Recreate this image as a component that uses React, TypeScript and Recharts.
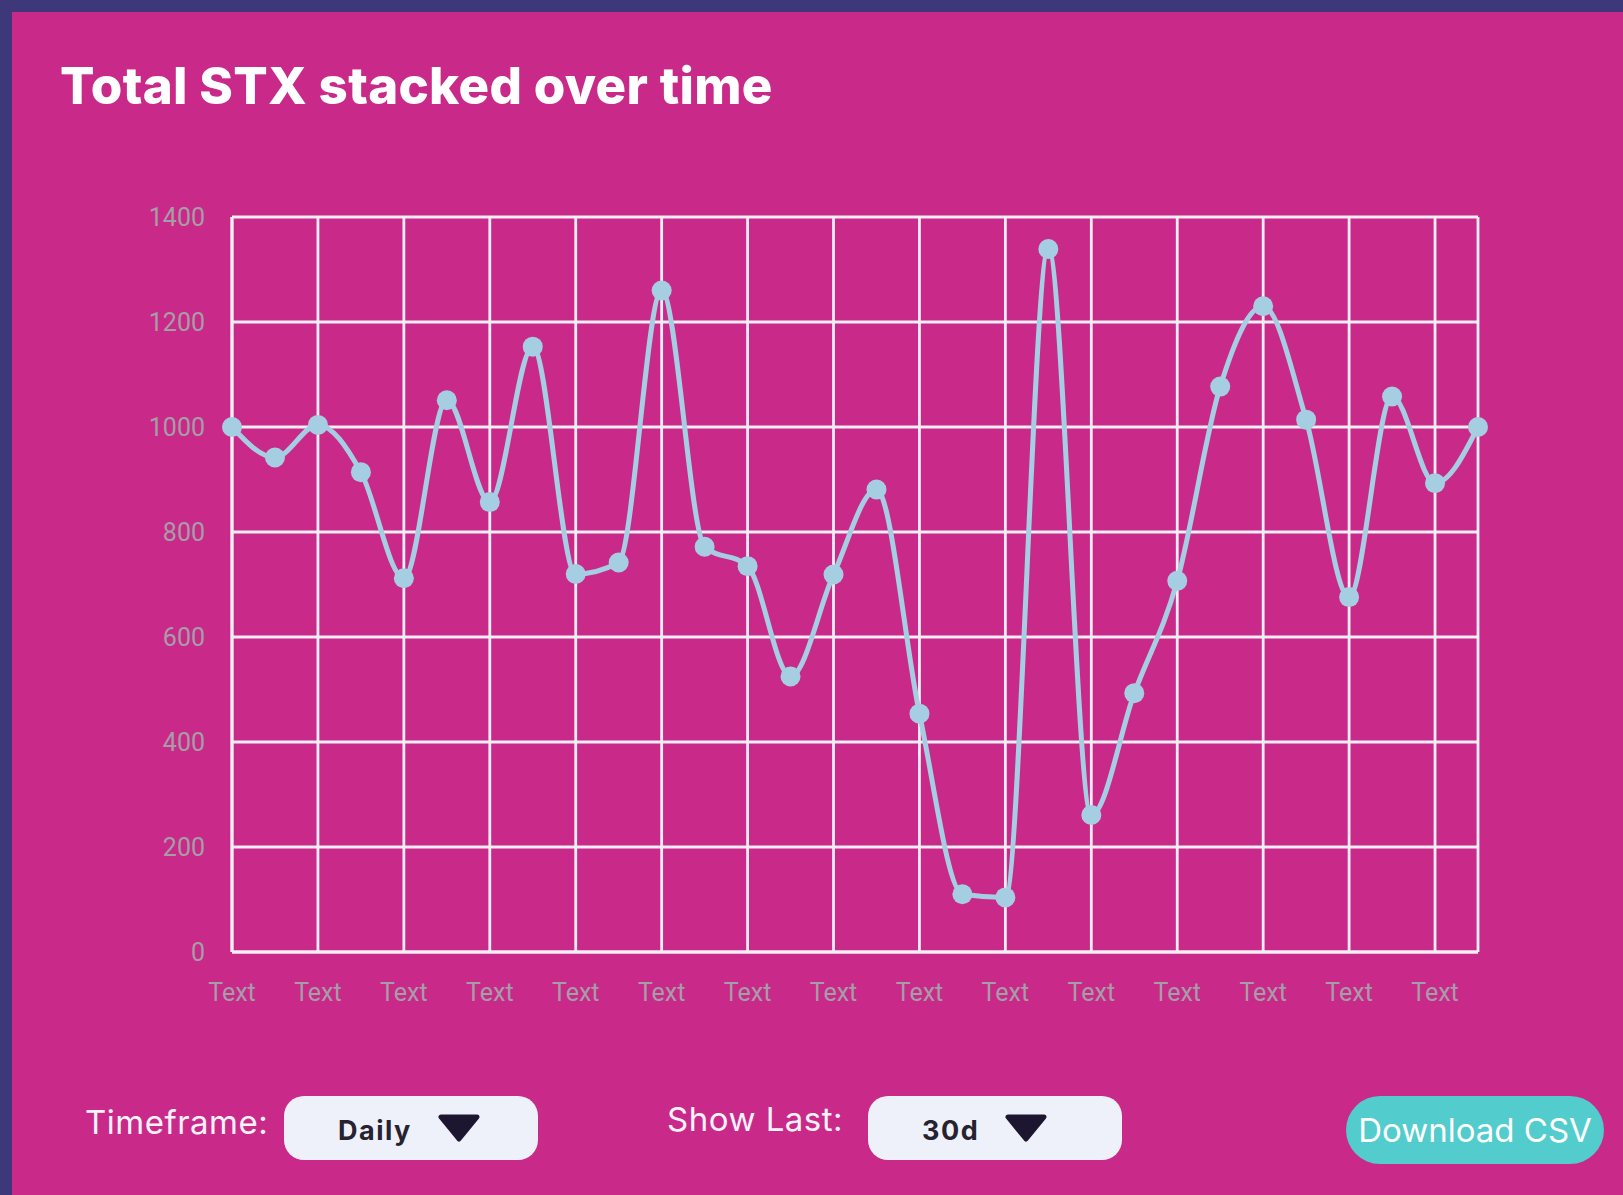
import { LineChart, Line, XAxis, YAxis, CartesianGrid } from 'recharts'

// tick labels under the x axis (one per grid column)
const xLabels = ['Text', 'Text', 'Text', 'Text', 'Text', 'Text', 'Text', 'Text', 'Text', 'Text', 'Text', 'Text', 'Text', 'Text', 'Text']

// daily STX stacked values
const stacked = [
  1000, 942, 1004, 914, 712, 1051, 857, 1153, 720, 742,
  1260, 772, 735, 525, 719, 881, 454, 110, 104, 1339,
  261, 493, 707, 1077, 1230, 1014, 676, 1058, 893, 1000
]

const yTicks = [0, 200, 400, 600, 800, 1000, 1200, 1400]

const data = stacked.map((value, idx) => ({ idx, value }))
// a tick every second day plus the closing edge of the grid
const xTicks = [...xLabels.map((_, i) => i * 2), stacked.length - 1]

const PINK = '#c92a8a'
const GRID = '#f3eef3'
const TICK = '#a69ea6'
const LINE = '#a6cee2'

function Caret() {
  return (
    <svg width={42} height={28} style={{ display: 'block' }}>
      <polygon points="3,3 39,3 21,25" fill="#1c1630" stroke="#1c1630" strokeWidth={5} strokeLinejoin="round" />
    </svg>
  )
}

function Select({ left, label }: { left: number; label: string }) {
  return (
    <div
      style={{
        position: 'absolute', left, top: 1096, width: 254, height: 64, borderRadius: 20,
        background: '#eef1f9', display: 'flex', alignItems: 'center', paddingLeft: 54,
        boxSizing: 'border-box', gap: 26
      }}
    >
      <span style={{ fontFamily: 'Inter', fontWeight: 700, fontSize: 27, color: '#26222f', letterSpacing: 1.5, lineHeight: 1, marginTop: 4 }}>
        {label}
      </span>
      <Caret />
    </div>
  )
}

export default function App() {
  return (
    <div style={{ position: 'absolute', left: 0, top: 0, width: 1623, height: 1195, background: '#3e3779', overflow: 'hidden' }}>
      <div style={{ position: 'absolute', left: 12, top: 12, width: 1611, height: 1183, background: PINK }} />

      <div style={{ position: 'absolute', left: 60, top: 60, fontFamily: 'Inter', fontWeight: 800, fontSize: 51, lineHeight: 1, color: '#ffffff', whiteSpace: 'nowrap', letterSpacing: 0.3 }}>
        Total STX stacked over time
      </div>

      <div style={{ position: 'absolute', left: 0, top: 0 }}>
        <LineChart width={1623} height={1060} data={data} margin={{ top: 217, right: 145, left: 132, bottom: 78 }}>
          <CartesianGrid stroke={GRID} strokeWidth={2.8} />
          <XAxis
            dataKey="idx"
            type="number"
            domain={[0, stacked.length - 1]}
            ticks={xTicks}
            tickFormatter={(v) => xLabels[v / 2] ?? ''}
            axisLine={{ stroke: GRID, strokeWidth: 3 }}
            tickLine={false}
            tickSize={0}
            tickMargin={31}
            tick={{ fill: TICK, fontSize: 25, fontFamily: 'Roboto' }}
            height={30}
          />
          <YAxis
            domain={[0, 1400]}
            ticks={yTicks}
            axisLine={{ stroke: GRID, strokeWidth: 3 }}
            tickLine={false}
            tickSize={0}
            tickMargin={27}
            tick={{ fill: TICK, fontSize: 25, fontFamily: 'Roboto' }}
            width={100}
          />
          <Line
            type="monotone"
            dataKey="value"
            stroke={LINE}
            strokeWidth={5}
            dot={{ r: 10, fill: LINE, stroke: LINE, strokeWidth: 0 }}
            activeDot={false}
            isAnimationActive={false}
          />
        </LineChart>
      </div>

      <div style={{ position: 'absolute', left: 85, top: 1106, fontFamily: 'Inter', fontSize: 33, lineHeight: 1, color: '#fbf3fa', letterSpacing: 0.5 }}>
        Timeframe:
      </div>
      <Select left={284} label="Daily" />

      <div style={{ position: 'absolute', left: 667, top: 1103, fontFamily: 'Inter', fontSize: 33, lineHeight: 1, color: '#fbf3fa', letterSpacing: 0.5 }}>
        Show Last:
      </div>
      <Select left={868} label="30d" />

      <div
        style={{
          position: 'absolute', left: 1346, top: 1096, width: 258, height: 68, borderRadius: 34, background: '#52cccc',
          display: 'flex', alignItems: 'center', justifyContent: 'center', fontFamily: 'Inter', fontSize: 33, color: '#ffffff', lineHeight: 1
        }}
      >
        Download CSV
      </div>
    </div>
  )
}
